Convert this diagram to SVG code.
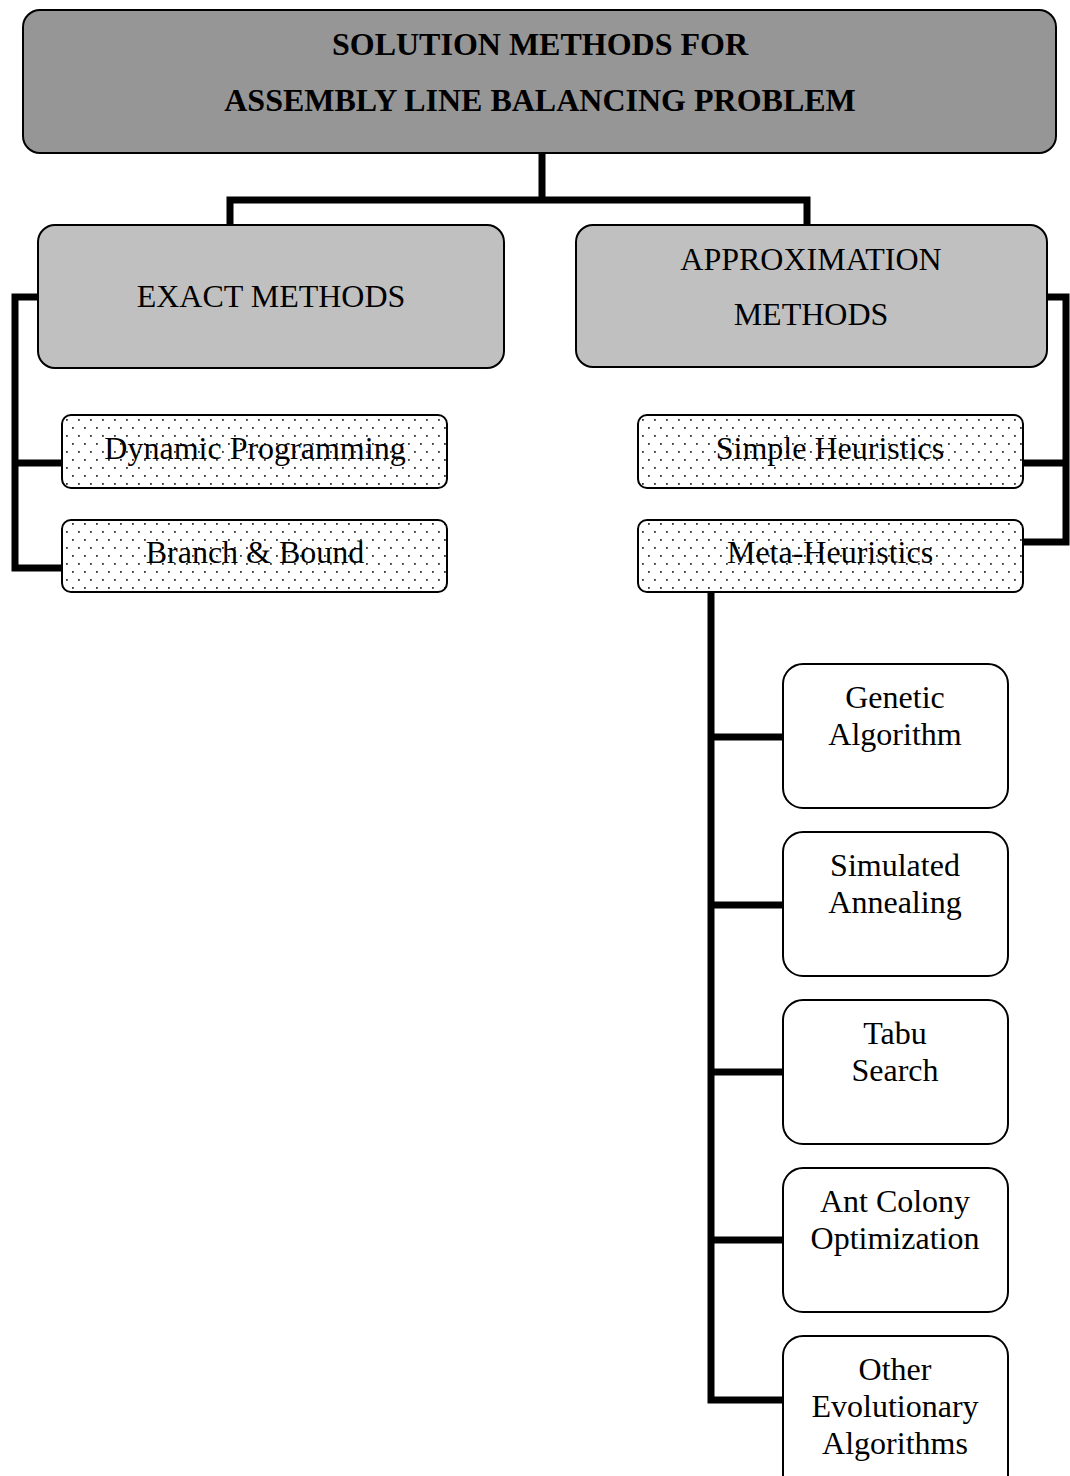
<svg xmlns="http://www.w3.org/2000/svg" width="1070" height="1476" viewBox="0 0 1070 1476">
  <style>
    .box { stroke: #000; stroke-width: 2; }
    .title { fill: #969696; }
    .main { fill: #c0c0c0; }
    .dotted { fill: url(#dots); }
    .plain { fill: #fff; }
    .t { font-family: "Liberation Serif", "Times New Roman", serif; font-size: 32px; fill: #000; text-anchor: middle; }
    .b { font-weight: bold; }
    .link { fill: none; stroke: #000; stroke-width: 7; stroke-linejoin: miter; stroke-linecap: square; }
  </style>
  <defs>
    <pattern id="dots" width="12" height="16" patternUnits="userSpaceOnUse" x="66" y="419">
      <rect width="12" height="16" fill="#fff"/>
      <rect x="0" y="0" width="1.8" height="1.8" fill="#333"/>
      <rect x="6" y="8" width="1.8" height="1.8" fill="#333"/>
    </pattern>
  </defs>
  <rect width="1070" height="1476" fill="#fff"/>

  <!-- connectors -->
  <g id="connectors">
    <path class="link" d="M542,155 V200 M230,223 V200 H807 V223"/>
    <path class="link" d="M36,297 H15 V568 H60 M15,463 H60"/>
    <path class="link" d="M1049,297 H1066 V542 H1025 M1066,463 H1025"/>
    <path class="link" d="M711,594 V1400 H781 M711,737 H781 M711,905 H781 M711,1072 H781 M711,1240 H781"/>
  </g>

  <g id="root">
    <rect class="box title" x="23" y="10" width="1033" height="143" rx="17"/>
    <text class="t b" x="540" y="55">SOLUTION METHODS FOR</text>
    <text class="t b" x="540" y="111">ASSEMBLY LINE BALANCING PROBLEM</text>
  </g>

  <g id="exact">
    <rect class="box main" x="38" y="225" width="466" height="143" rx="17"/>
    <text class="t" x="271" y="307">EXACT METHODS</text>
  </g>

  <g id="approx">
    <rect class="box main" x="576" y="225" width="471" height="142" rx="17"/>
    <text class="t" x="811" y="270">APPROXIMATION</text>
    <text class="t" x="811" y="325">METHODS</text>
  </g>

  <g id="dynamic">
    <rect class="box dotted" x="62" y="415" width="385" height="73" rx="9"/>
    <text class="t" x="255" y="459">Dynamic Programming</text>
  </g>
  <g id="branch">
    <rect class="box dotted" x="62" y="520" width="385" height="72" rx="9"/>
    <text class="t" x="255" y="563">Branch &amp; Bound</text>
  </g>
  <g id="simple">
    <rect class="box dotted" x="638" y="415" width="385" height="73" rx="9"/>
    <text class="t" x="830" y="459">Simple Heuristics</text>
  </g>
  <g id="meta">
    <rect class="box dotted" x="638" y="520" width="385" height="72" rx="9"/>
    <text class="t" x="830" y="563">Meta-Heuristics</text>
  </g>

  <g id="genetic">
    <rect class="box plain" x="783" y="664" width="225" height="144" rx="20"/>
    <text class="t" x="895" y="708">Genetic</text>
    <text class="t" x="895" y="745">Algorithm</text>
  </g>
  <g id="annealing">
    <rect class="box plain" x="783" y="832" width="225" height="144" rx="20"/>
    <text class="t" x="895" y="876">Simulated</text>
    <text class="t" x="895" y="913">Annealing</text>
  </g>
  <g id="tabu">
    <rect class="box plain" x="783" y="1000" width="225" height="144" rx="20"/>
    <text class="t" x="895" y="1044">Tabu</text>
    <text class="t" x="895" y="1081">Search</text>
  </g>
  <g id="ant">
    <rect class="box plain" x="783" y="1168" width="225" height="144" rx="20"/>
    <text class="t" x="895" y="1212">Ant Colony</text>
    <text class="t" x="895" y="1249">Optimization</text>
  </g>
  <g id="other">
    <rect class="box plain" x="783" y="1336" width="225" height="160" rx="20"/>
    <text class="t" x="895" y="1380">Other</text>
    <text class="t" x="895" y="1417">Evolutionary</text>
    <text class="t" x="895" y="1454">Algorithms</text>
  </g>
</svg>
